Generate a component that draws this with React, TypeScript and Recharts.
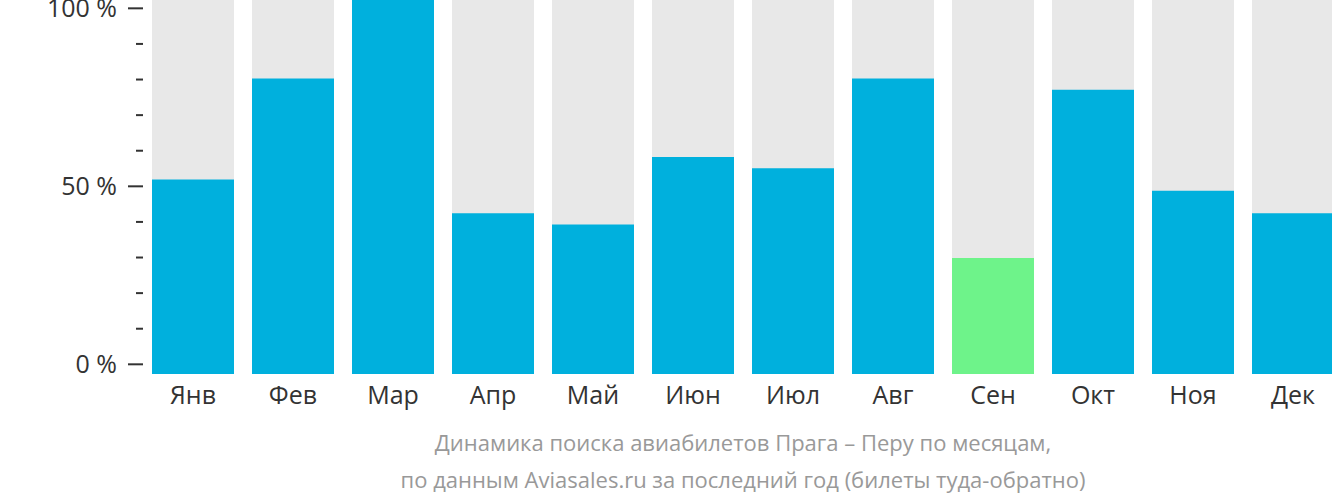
import { BarChart, Bar, XAxis, YAxis, Cell } from 'recharts';

const months = ['Янв', 'Фев', 'Мар', 'Апр', 'Май', 'Июн', 'Июл', 'Авг', 'Сен', 'Окт', 'Ноя', 'Дек'];
const searchShare = [52, 79, 100, 43, 40, 58, 55, 79, 31, 76, 49, 43];
// the cheapest month is drawn green
const cheapestMonth = 'Сен';
const yTicks = [0, 10, 20, 30, 40, 50, 60, 70, 80, 90, 100];
const yLabels: Record<number, string> = { 0: '0 %', 50: '50 %', 100: '100 %' };
const captionLines = [
  'Динамика поиска авиабилетов Прага – Перу по месяцам,',
  'по данным Aviasales.ru за последний год (билеты туда-обратно)',
];

const data = months.map((m, i) => ({ month: m, value: searchShare[i] }));

const FONT = '"Open Sans", "Noto Sans", sans-serif';

function PercentTick(props: any) {
  const { x, y, payload } = props;
  const label = yLabels[payload.value];
  const major = label !== undefined;
  return (
    <g>
      <line x1={x - (major ? 15 : 7)} x2={x} y1={y} y2={y} stroke="#333" strokeWidth={2} />
      {major && (
        <text x={x - 26} y={y} dy="0.35em" textAnchor="end" fontSize={25} fill="#333" fontFamily={FONT}>
          {label}
        </text>
      )}
    </g>
  );
}

export default function App() {
  return (
    <div style={{ position: 'absolute', left: 0, top: 0, width: 1332, height: 502, overflow: 'hidden', background: '#fff' }}>
      <BarChart
        width={1343}
        height={502}
        data={data}
        margin={{ top: 0, right: 0, bottom: 88, left: 0 }}
        barCategoryGap={9}
      >
        <XAxis
          dataKey="month"
          axisLine={false}
          tickLine={false}
          tickSize={0}
          tickMargin={12}
          height={40}
          interval={0}
          tick={{ fontSize: 25, fill: '#333', fontFamily: FONT }}
        />
        <YAxis yAxisId="bars" domain={[0, 100]} width={0} hide />
        <YAxis
          yAxisId="ticks"
          type="number"
          domain={[-2.72, 102.34]}
          ticks={yTicks}
          allowDataOverflow
          interval={0}
          width={143}
          axisLine={false}
          tickLine={false}
          tickSize={0}
          tickMargin={0}
          tick={<PercentTick />}
        />
        <Bar
          yAxisId="bars"
          dataKey="value"
          isAnimationActive={false}
          background={{ fill: '#e8e8e8' }}
        >
          {data.map((d) => (
            <Cell key={d.month} fill={d.month === cheapestMonth ? '#6ef38a' : '#00b0dd'} />
          ))}
        </Bar>
      </BarChart>
      <div
        style={{
          position: 'absolute',
          left: 143,
          width: 1200,
          top: 424,
          textAlign: 'center',
          fontFamily: FONT,
          fontSize: 22,
          lineHeight: '37px',
          color: '#999',
        }}
      >
        {captionLines.map((l) => (
          <div key={l}>{l}</div>
        ))}
      </div>
    </div>
  );
}
